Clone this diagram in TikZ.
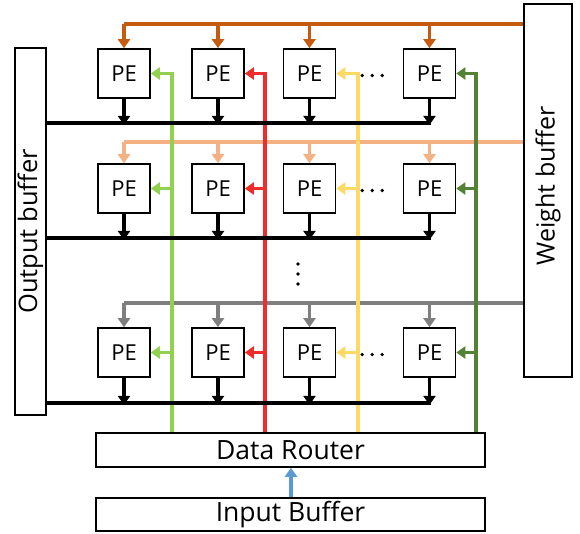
\documentclass[tikz,border=0pt]{standalone}
\usepackage{fontspec}
\setmainfont{Open Sans}
\usetikzlibrary{arrows.meta,calc}

\definecolor{wrow1}{HTML}{C55A11}
\definecolor{wrow2}{HTML}{F4B183}
\definecolor{wrow3}{HTML}{7F7F7F}
\definecolor{dcol1}{HTML}{92D050}
\definecolor{dcol2}{HTML}{EE2C2C}
\definecolor{dcol3}{HTML}{FFD966}
\definecolor{dcol4}{HTML}{548235}
\definecolor{inflow}{HTML}{5B9BD5}

\tikzset{
  pebox/.style={draw=black, line width=1.6pt, minimum width=52pt, minimum height=49pt,
                inner sep=0pt, font=\fontsize{22}{26}\selectfont},
  bufbox/.style={draw=black, line width=1.6pt, inner sep=0pt},
  feed/.style={line width=3.5pt, -{Triangle[width=12pt,length=9pt]}},
  wire/.style={line width=3.5pt},
  bus/.style={line width=3.8pt, black},
  dots/.style={circle, fill=black, inner sep=0pt, minimum size=3.6pt}
}

\begin{document}
\begin{tikzpicture}[x=1pt, y=-1pt]
\useasboundingbox (0,0) rectangle (580,533);

% side buffers
\node[bufbox, minimum width=31pt, minimum height=367pt] (ob) at (30.5,231.5) {};
\node[rotate=90, font=\fontsize{25.5}{30}\selectfont] at (ob.center) {Output buffer};
\node[bufbox, minimum width=48pt, minimum height=373pt] (wb) at (548,190.5) {};
\node[rotate=90, font=\fontsize{25}{30}\selectfont] at ($(wb.center)+(0,-5)$) {Weight buffer};

% routing and input boxes
\node[bufbox, minimum width=389pt, minimum height=34pt, font=\fontsize{26.5}{30}\selectfont] (dr) at (290.5,450) {Data Router};
\node[bufbox, minimum width=389pt, minimum height=33pt, font=\fontsize{26.5}{30}\selectfont] (ib) at (290.5,514.5) {Input Buffer};

% PE array
\foreach \r/\y in {1/73.5, 2/188.5, 3/352.5}{
  \foreach \c/\x in {1/124, 2/218, 3/309.5, 4/429.5}{
    \node[pebox] (pe\r\c) at (\x,\y) {PE};
  }
}

% weight broadcast lines
\foreach \r/\yy/\col in {1/24/wrow1, 2/142/wrow2, 3/303/wrow3}{
  \draw[wire, \col] (wb.west |- 0,\yy) -- (pe\r1.north |- 0,\yy);
  \foreach \c in {1,2,3,4}{
    \draw[feed, \col] (pe\r\c.north |- 0,\yy) -- (pe\r\c.north);
  }
}

% data lines from the router
\foreach \c/\xx/\col in {1/172/dcol1, 2/265/dcol2, 3/358/dcol3, 4/476/dcol4}{
  \draw[feed, \col] (dr.north -| \xx,0) |- (pe1\c.east);
  \draw[feed, \col] (pe2\c.east -| \xx,0) -- (pe2\c.east);
  \draw[feed, \col] (pe3\c.east -| \xx,0) -- (pe3\c.east);
}

% output buses
\foreach \r/\yy in {1/123, 2/238, 3/403}{
  \draw[bus] (ob.east |- 0,\yy) -- ($(pe\r4.south |- 0,\yy)+(1.9,0)$);
  \foreach \c in {1,2,3,4}{
    \draw[bus, -{Triangle[width=12pt,length=9pt]}] (pe\r\c.south) -- ($(pe\r\c.south |- 0,\yy)+(0,1.9)$);
  }
}

% input into router
\draw[inflow, feed] (ib.north -| 291,0) -- (dr.south -| 291,0);

% ellipses
\foreach \r in {1,2,3}{
  \foreach \dx in {363,373,383}{
    \node[dots] at ($(pe\r4.west)+(\dx-403.5,2)$) {};
  }
}
\foreach \yy in {264,274,284}{
  \node[dots] at (298,\yy) {};
}
\end{tikzpicture}
\end{document}
